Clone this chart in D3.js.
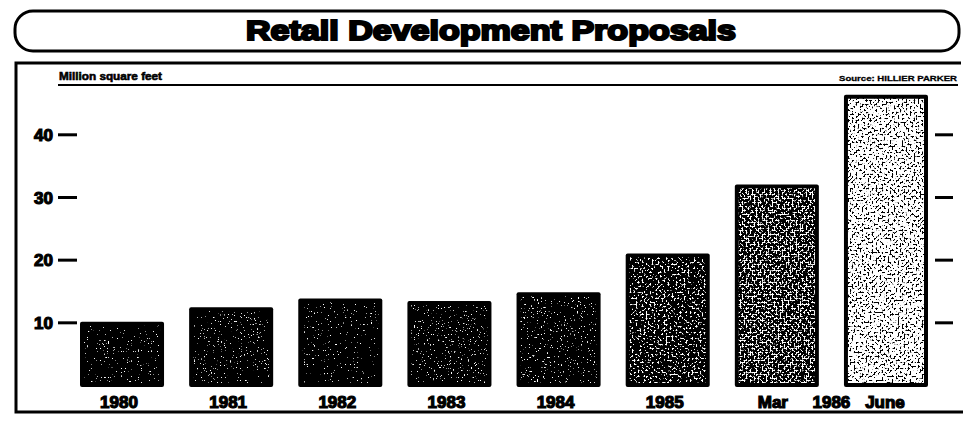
<!DOCTYPE html>
<html>
<head>
<meta charset="utf-8">
<script src="https://cdn.jsdelivr.net/npm/d3@7"></script>
<style>
  body { margin: 0; background: #fff; }
  svg { display: block; }
  text { font-family: "Liberation Sans", Arial, sans-serif; font-weight: bold; fill: #000; }
</style>
</head>
<body>
<svg id="chart" width="963" height="422"></svg>
<script>
// data
var categories = ["1980", "1981", "1982", "1983", "1984", "1985", "Mar 1986", "June 1986"]
var values = [10.1, 12.4, 13.8, 13.4, 14.8, 21.0, 32.0, 46.3]
var tickValues = [10, 20, 30, 40]
var tickLabels = ["1980", "1981", "1982", "1983", "1984", "1985", "Mar", "June"]

// how much white speckle each bar gets (0 = solid black, 1 = white)
var speckle = [0.04, 0.07, 0.05, 0.1, 0.12, 0.3, 0.48, 0.74]

var svg = d3.select("#chart")

// title box
svg.append("rect").attr("x", 15).attr("y", 11).attr("width", 944).attr("height", 40)
  .attr("rx", 18).attr("ry", 18)
  .style("fill", "none").style("stroke", "#000").style("stroke-width", 3)

svg.append("text").attr("x", 491).attr("y", 40)
  .attr("text-anchor", "middle")
  .attr("textLength", 490).attr("lengthAdjust", "spacingAndGlyphs")
  .style("font-size", "28px").style("stroke", "#000").style("stroke-width", 2.2)
  .text("Retail Development Proposals")

// outer frame (top, left, bottom)
svg.append("path").attr("d", "M961,63 L16,63 L16,412 L963,412")
  .style("fill", "none").style("stroke", "#000").style("stroke-width", 3)

// header rule with unit and source
svg.append("line").attr("x1", 58).attr("x2", 958).attr("y1", 85).attr("y2", 85)
  .style("stroke", "#000").style("stroke-width", 2)
svg.append("text").attr("x", 59).attr("y", 80)
  .attr("textLength", 103).attr("lengthAdjust", "spacingAndGlyphs")
  .style("font-size", "11px").style("stroke", "#000").style("stroke-width", 0.6)
  .text("Million square feet")
svg.append("text").attr("x", 957).attr("y", 81).attr("text-anchor", "end")
  .attr("textLength", 118).attr("lengthAdjust", "spacingAndGlyphs")
  .style("font-size", "8px").style("stroke", "#000").style("stroke-width", 0.3)
  .text("Source:  HILLIER PARKER")

// scales
var x = d3.scaleBand().domain(categories).range([80, 928]).paddingInner(0.23).paddingOuter(0)
var y = d3.scaleLinear().domain([0, 40]).range([385, 134.3])

// speckle filters
var defs = svg.append("defs")
speckle.forEach(function(s, i){
  var f = defs.append("filter").attr("id", "spk" + i)
    .attr("x", 0).attr("y", 0).attr("width", 1).attr("height", 1)
  f.append("feTurbulence").attr("type", "fractalNoise").attr("baseFrequency", i < 5 ? 0.7 : 0.5)
    .attr("numOctaves", 2).attr("seed", i * 7 + 3).attr("result", "n")
  f.append("feColorMatrix").attr("in", "n").attr("type", "matrix")
    .attr("values", "0 0 0 0 1  0 0 0 0 1  0 0 0 0 1  1 0 0 0 0").attr("result", "w")
  // threshold the noise so only the brightest bits show through
  var t = 0.5 + (0.5 - s) * 0.45
  f.append("feComponentTransfer").attr("in", "w").attr("result", "dots")
    .append("feFuncA").attr("type", "linear").attr("slope", 14).attr("intercept", -14 * t)
  f.append("feComposite").attr("in", "dots").attr("in2", "SourceGraphic").attr("operator", "in").attr("result", "dd")
  var m = f.append("feMerge")
  m.append("feMergeNode").attr("in", "SourceGraphic")
  m.append("feMergeNode").attr("in", "dd")
})

// bars
var bars = svg.append("g").attr("class", "bars")
bars.selectAll("rect.bar").data(values).enter().append("rect").attr("class", "bar")
  .attr("x", function(d, i){ return x(categories[i]) })
  .attr("y", function(d){ return y(d) })
  .attr("width", x.bandwidth())
  .attr("height", function(d){ return y(0) + 2 - y(d) })
  .attr("rx", 2)
  .style("fill", "#000")
bars.selectAll("rect.fill").data(values).enter().append("rect").attr("class", "fill")
  .attr("x", function(d, i){ return x(categories[i]) + 4 })
  .attr("y", function(d){ return y(d) + 4 })
  .attr("width", x.bandwidth() - 8)
  .attr("height", function(d){ return y(0) - 6 - y(d) })
  .style("fill", "#000")
  .attr("filter", function(d, i){ return "url(#spk" + i + ")" })

// left axis
var left = svg.append("g").attr("transform", "translate(77,0)")
  .call(d3.axisLeft(y).tickValues(tickValues).tickSize(19).tickPadding(5))
left.select(".domain").remove()
left.selectAll("line").style("stroke", "#000").style("stroke-width", 3)
left.selectAll("text").style("font-size", "17px").style("font-family", "Liberation Sans, Arial, sans-serif")
  .style("stroke", "#000").style("stroke-width", 1.2).attr("dy", "0.36em")

// right axis, ticks only
var right = svg.append("g").attr("transform", "translate(935,0)")
  .call(d3.axisRight(y).tickValues(tickValues).tickSize(18).tickFormat(""))
right.select(".domain").remove()
right.selectAll("line").style("stroke", "#000").style("stroke-width", 3)

// bottom labels
var bottom = svg.append("g").attr("transform", "translate(0,388)")
  .call(d3.axisBottom(x).tickSize(0).tickPadding(8).tickFormat(function(d, i){ return tickLabels[i] }))
bottom.select(".domain").remove()
bottom.selectAll("text").style("font-size", "17px").style("font-family", "Liberation Sans, Arial, sans-serif")
  .style("stroke", "#000").style("stroke-width", 1.2)
  .attr("transform", function(d, i){ return i == 6 ? "translate(-4,0)" : (i == 7 ? "translate(-1,0)" : "translate(-3,0)") })

var midX = (x("Mar 1986") + x("June 1986") + x.bandwidth()) / 2
svg.append("text").attr("x", midX).attr("y", 388 + 8).attr("dy", "0.71em")
  .attr("text-anchor", "middle")
  .style("font-size", "17px").style("stroke", "#000").style("stroke-width", 1.2)
  .text("1986")
</script>
</body>
</html>
